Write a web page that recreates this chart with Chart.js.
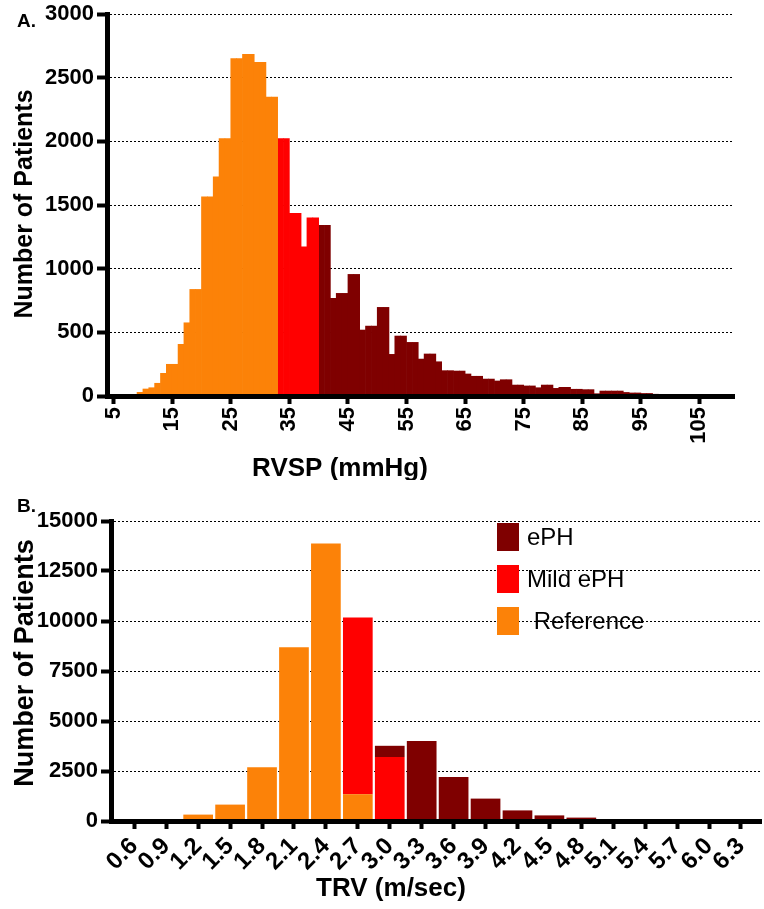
<!DOCTYPE html>
<html lang="en">
<head>
<meta charset="UTF-8">
<title>RVSP and TRV distribution</title>
<style>
  body { margin: 0; background: #fff; }
  #wrap { position: relative; width: 764px; height: 909px; }
  canvas { position: absolute; left: 0; }
</style>
</head>
<body>
<div id="wrap">
  <canvas id="rvsp-chart" width="764" height="480" style="top: 0"></canvas>
  <canvas id="trv-chart" width="764" height="429" style="top: 480px"></canvas>
</div>

<script src="https://cdn.jsdelivr.net/npm/chart.js"></script>
<script>
// A. RVSP histogram, 1 mmHg bins, counts listed from the first bin's left edge
const rvspRefStart = 5;
const rvspRef = [0, 2, 4, 9, 29, 55, 65, 100, 178, 249, 249, 406, 575, 837, 837,
  1564, 1564, 1721, 2022, 2022, 2650, 2650, 2684, 2684, 2621, 2621, 2347, 2347];
const rvspMildStart = 33;
const rvspMild = [2022, 2022, 1434, 1434, 1172, 1400, 1400];
const rvspEphStart = 40;
const rvspEph = [1340, 1340, 767, 806, 806, 955, 955, 518, 549, 549, 696, 696, 327, 471, 471,
  421, 421, 290, 330, 330, 269, 199, 199, 196, 196, 173, 155, 155, 133, 133, 118, 128, 128,
  86, 86, 79, 79, 65, 86, 86, 60, 68, 68, 53, 53, 50, 50, 18, 39, 39, 39, 39, 28, 24, 24,
  20, 20, 14, 12, 12, 10, 10, 9, 8, 8, 7, 6, 6, 5, 5, 4];
const rvspTicks = [5, 15, 25, 35, 45, 55, 65, 75, 85, 95, 105];

// B. TRV histogram
const trvBins = [0.6, 0.9, 1.2, 1.5, 1.8, 2.1, 2.4, 2.7, 3.0, 3.3, 3.6, 3.9, 4.2, 4.5, 4.8, 5.1, 5.4, 5.7, 6.0, 6.3];
const trvRef  = [5, 30, 320, 820, 2690, 8690, 13880, 1340, 0, 0, 0, 0, 0, 0, 0, 0, 0, 0, 0, 0];
const trvMild = [0, 0, 0, 0, 0, 0, 0, 8830, 3200, 0, 0, 0, 0, 0, 0, 0, 0, 0, 0, 0];
const trvEph  = [0, 0, 0, 0, 0, 0, 0, 0, 560, 4000, 2200, 1120, 530, 280, 170, 60, 30, 15, 8, 5];

const COLORS = { eph: '#7f0000', mild: '#ff0000', ref: '#fc8208' };
const FONT = '"Liberation Sans", Arial, sans-serif';

function bins(start, counts) {
  return counts.map((c, i) => ({ x: start + i + 0.5, y: c }));
}

const textPlugin = {
  id: 'texts',
  afterDraw(chart, args, opts) {
    const ctx = chart.ctx;
    opts.items.forEach(t => {
      ctx.save();
      ctx.font = t.font;
      ctx.fillStyle = '#000';
      ctx.textAlign = t.align;
      ctx.textBaseline = 'alphabetic';
      ctx.translate(t.x, t.y);
      if (t.rotate) ctx.rotate(t.rotate);
      ctx.fillText(t.text, 0, 0);
      ctx.restore();
    });
  }
};

const boxLegend = {
  id: 'boxLegend',
  afterDraw(chart, args, opts) {
    if (!opts.show) return;
    const ctx = chart.ctx;
    chart.data.datasets.slice().reverse().forEach((ds, i) => {
      const y = opts.y + i * opts.spacing;
      ctx.fillStyle = ds.backgroundColor;
      ctx.fillRect(opts.x, y, opts.boxW, opts.boxH);
      ctx.fillStyle = '#000';
      ctx.font = opts.font;
      ctx.textAlign = 'left';
      ctx.textBaseline = 'middle';
      ctx.fillText(ds.label, opts.x + opts.boxW + opts.gap, y + opts.boxH / 2 + 1);
    });
  }
};

const tickFont = { family: FONT, size: 22, weight: 'bold', lineHeight: 1 };
const trvTickFont = { family: FONT, size: 24, weight: 'bold', lineHeight: 1 };

new Chart(document.getElementById('rvsp-chart'), {
  type: 'bar',
  data: {
    datasets: [
      { label: 'Reference', data: bins(rvspRefStart, rvspRef), backgroundColor: COLORS.ref },
      { label: 'Mild ePH', data: bins(rvspMildStart, rvspMild), backgroundColor: COLORS.mild },
      { label: 'ePH', data: bins(rvspEphStart, rvspEph), backgroundColor: COLORS.eph }
    ]
  },
  options: {
    responsive: false,
    animation: false,
    layout: { padding: { top: 14, right: 30, left: 0, bottom: 0 } },
    datasets: { bar: { grouped: false, barPercentage: 1, categoryPercentage: 1 } },
    scales: {
      x: {
        type: 'linear', min: 3.87, max: 110.9, offset: false,
        afterBuildTicks: s => { s.ticks = rvspTicks.map(v => ({ value: v })); },
        afterFit: s => { s.height = 84; },
        grid: { offset: false, drawOnChartArea: false, tickLength: 8, tickWidth: 4, tickColor: '#000' },
        border: { color: '#000', width: 5, z: 1 },
        ticks: { color: '#000', font: tickFont, minRotation: 90, maxRotation: 90, autoSkip: false, padding: 3 }
      },
      y: {
        min: 0, max: 3000,
        afterFit: s => { s.width = 107; },
        grid: { color: '#000', lineWidth: 1, tickLength: 10, tickWidth: 4, tickColor: '#000' },
        border: { color: '#000', width: 5, z: 1, dash: [2, 2] },
        ticks: { stepSize: 500, color: '#000', font: tickFont, padding: 3, callback: v => String(v) }
      }
    },
    plugins: {
      legend: { display: false },
      tooltip: { enabled: false },
      texts: {
        items: [
          { text: 'A.', x: 17, y: 27, font: 'bold 19px ' + FONT, align: 'left' },
          { text: 'Number of Patients', x: 32, y: 204, rotate: -Math.PI / 2, font: 'bold 25px ' + FONT, align: 'center' },
          { text: 'RVSP (mmHg)', x: 340, y: 476, font: 'bold 26px ' + FONT, align: 'center' }
        ]
      },
      boxLegend: { show: false }
    }
  },
  plugins: [textPlugin, boxLegend]
});

new Chart(document.getElementById('trv-chart'), {
  type: 'bar',
  data: {
    datasets: [
      { label: ' Reference', data: trvBins.map((b, i) => ({ x: b, y: trvRef[i] })), backgroundColor: COLORS.ref },
      { label: 'Mild ePH', data: trvBins.map((b, i) => ({ x: b, y: trvMild[i] })), backgroundColor: COLORS.mild },
      { label: 'ePH', data: trvBins.map((b, i) => ({ x: b, y: trvEph[i] })), backgroundColor: COLORS.eph }
    ]
  },
  options: {
    responsive: false,
    animation: false,
    layout: { padding: { top: 41, right: 3, left: 0, bottom: 0 } },
    datasets: { bar: { grouped: false, barPercentage: 0.93, categoryPercentage: 1 } },
    scales: {
      x: {
        type: 'linear', min: 0.381, max: 6.488, offset: false,
        afterBuildTicks: s => { s.ticks = trvBins.map(v => ({ value: v })); },
        afterFit: s => { s.height = 88; },
        grid: { offset: false, drawOnChartArea: false, tickLength: 8, tickWidth: 4, tickColor: '#000' },
        border: { color: '#000', width: 5, z: 1 },
        ticks: { color: '#000', font: trvTickFont, minRotation: 45, maxRotation: 45, autoSkip: false, padding: 5,
          callback: v => v.toFixed(1) }
      },
      y: {
        min: 0, max: 15000, stacked: true,
        afterFit: s => { s.width = 111; },
        grid: { color: '#000', lineWidth: 1, tickLength: 10, tickWidth: 4, tickColor: '#000' },
        border: { color: '#000', width: 5, z: 1, dash: [2, 2] },
        ticks: { stepSize: 2500, color: '#000', font: tickFont, padding: 3, callback: v => String(v) }
      }
    },
    plugins: {
      legend: { display: false },
      tooltip: { enabled: false },
      texts: {
        items: [
          { text: 'B.', x: 17, y: 32, font: 'bold 19px ' + FONT, align: 'left' },
          { text: 'Number of Patients', x: 33, y: 183, rotate: -Math.PI / 2, font: 'bold 27px ' + FONT, align: 'center' },
          { text: 'TRV (m/sec)', x: 391, y: 416, font: 'bold 26px ' + FONT, align: 'center' }
        ]
      },
      boxLegend: { show: true, x: 497, y: 43, spacing: 42, boxW: 22, boxH: 28, gap: 8, font: '24px ' + FONT }
    }
  },
  plugins: [textPlugin, boxLegend]
});
</script>
</body>
</html>
